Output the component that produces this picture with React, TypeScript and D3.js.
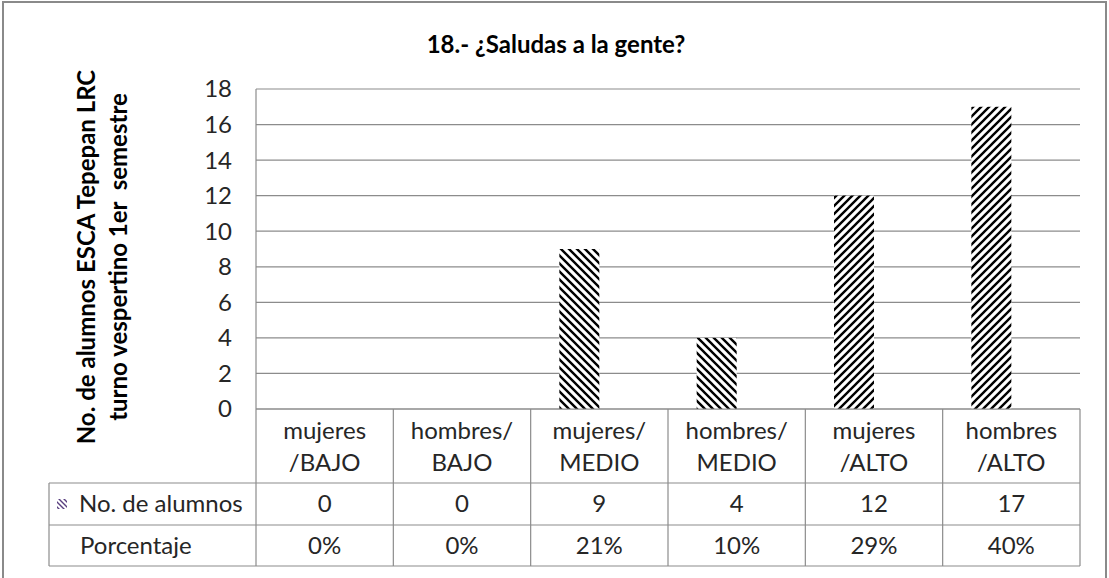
import React from "react";
import * as d3 from "d3";

const categoriesTop = ["mujeres", "hombres/", "mujeres/", "hombres/", "mujeres", "hombres"];
const categoriesBottom = ["/BAJO", "BAJO", "MEDIO", "MEDIO", "/ALTO", "/ALTO"];
const categories = ["mujeres/BAJO", "hombres/BAJO", "mujeres/MEDIO", "hombres/MEDIO", "mujeres/ALTO", "hombres/ALTO"];
const alumnos = [0, 0, 9, 4, 12, 17];
const porcentajeLabels = ["0%", "0%", "21%", "10%", "29%", "40%"];
const seriesNames = ["No. de alumnos", "Porcentaje"];
const barPatterns = ["down", "down", "down", "down", "up", "up"];
const yTicks = [0, 2, 4, 6, 8, 10, 12, 14, 16, 18];

const W = 1109;
const H = 578;
const FONT = "Lato, 'Open Sans', sans-serif";
const FS = 24;

export default function App() {
  const plotL = 256, plotR = 1080, plotT = 89, plotB = 409;
  const y = d3.scaleLinear().domain([0, 18]).range([plotB, plotT]);
  const x0 = d3.scaleBand<string>().domain(categories).range([plotL, plotR]).padding(0);
  const x1 = d3.scaleBand<string>().domain(seriesNames).range([0, x0.bandwidth()]).paddingInner(0).paddingOuter(0.717);
  const rowH = [plotB, 483, 525, 566];
  const tableL = 49;
  const grid = "#8c8c8c";
  const txt = "#262626";

  return (
    <svg width={W} height={H} style={{ position: "absolute", left: 0, top: 0, background: "#fff" }} fontFamily={FONT}>
      <defs>
        <pattern id="down" width={8} height={8} patternUnits="userSpaceOnUse">
          <rect width={8} height={8} fill="#fff" />
          <path d="M-2,-2 L10,10 M-2,6 L2,10 M6,-2 L10,2" stroke="#000" strokeWidth={2.4} />
        </pattern>
        <pattern id="up" width={8} height={8} patternUnits="userSpaceOnUse">
          <rect width={8} height={8} fill="#fff" />
          <path d="M-2,10 L10,-2 M-2,2 L2,-2 M6,10 L10,6" stroke="#000" strokeWidth={2.4} />
        </pattern>
        <pattern id="legendPat" width={5} height={5} patternUnits="userSpaceOnUse">
          <rect width={5} height={5} fill="#fff" />
          <path d="M-1,-1 L6,6 M-1,4 L1,6 M4,-1 L6,1" stroke="#5a3f80" strokeWidth={1.4} />
        </pattern>
      </defs>
      <rect x={0} y={0} width={W} height={H} fill="#fff" />
      <rect x={3} y={2} width={1103} height={H + 10} fill="none" stroke="#8a8a8a" strokeWidth={2} />

      <text x={556} y={53} textAnchor="middle" fontWeight="bold" fontSize={24} fill="#000">
        18.- ¿Saludas a la gente?
      </text>

      {/* gridlines */}
      {yTicks.map((t) => (
        <line key={t} x1={plotL} x2={plotR} y1={y(t)} y2={y(t)} stroke={grid} strokeWidth={1.2} />
      ))}
      <line x1={plotL} x2={plotL} y1={plotT} y2={plotB} stroke={grid} strokeWidth={1.2} />
      {yTicks.map((t) => (
        <text key={"t" + t} x={232} y={y(t)} dy="0.35em" textAnchor="end" fontSize={FS} fill={txt}>
          {t}
        </text>
      ))}

      {/* y axis title */}
      <g transform="translate(95,257) rotate(-90)">
        <text x={0} y={0} textAnchor="middle" fontWeight="bold" fontSize={24} fill="#000">
          No. de alumnos ESCA Tepepan LRC
        </text>
        <text x={0} y={32} textAnchor="middle" fontWeight="bold" fontSize={24} fill="#000" style={{ whiteSpace: "pre" }}>
          {"turno vespertino 1er  semestre"}
        </text>
      </g>

      {/* bars */}
      {categories.map((c, i) => {
        const bx = (x0(c) as number) + (x1(seriesNames[0]) as number);
        return alumnos[i] > 0 ? (
          <rect key={c} x={bx} y={y(alumnos[i])} width={x1.bandwidth()} height={y(0) - y(alumnos[i])} fill={`url(#${barPatterns[i]})`} />
        ) : null;
      })}

      {/* table */}
      <line x1={plotL} x2={plotR} y1={plotB} y2={plotB} stroke={grid} strokeWidth={1.2} />
      <line x1={tableL} x2={plotR} y1={rowH[1]} y2={rowH[1]} stroke={grid} strokeWidth={1.2} />
      <line x1={tableL} x2={plotR} y1={rowH[2]} y2={rowH[2]} stroke={grid} strokeWidth={1.2} />
      <line x1={tableL} x2={plotR} y1={rowH[3]} y2={rowH[3]} stroke={grid} strokeWidth={1.2} />
      <line x1={tableL} x2={tableL} y1={rowH[1]} y2={rowH[3]} stroke={grid} strokeWidth={1.2} />
      {categories.map((c) => (
        <line key={"v" + c} x1={x0(c)} x2={x0(c)} y1={plotB} y2={rowH[3]} stroke={grid} strokeWidth={1.2} />
      ))}
      <line x1={plotR} x2={plotR} y1={plotB} y2={rowH[3]} stroke={grid} strokeWidth={1.2} />

      {categories.map((c, i) => {
        const cx = (x0(c) as number) + x0.bandwidth() / 2;
        return (
          <g key={"lab" + c} fontSize={FS} fill={txt} textAnchor="middle">
            <text x={cx} y={431} dy="0.35em">{categoriesTop[i]}</text>
            <text x={cx} y={463} dy="0.35em">{categoriesBottom[i]}</text>
            <text x={cx} y={(rowH[1] + rowH[2]) / 2} dy="0.35em">{alumnos[i]}</text>
            <text x={cx} y={(rowH[2] + rowH[3]) / 2} dy="0.35em">{porcentajeLabels[i]}</text>
          </g>
        );
      })}
      <rect x={57} y={499} width={10} height={10} fill="url(#legendPat)" />
      <text x={79} y={(rowH[1] + rowH[2]) / 2} dy="0.35em" fontSize={FS} fill={txt}>{seriesNames[0]}</text>
      <text x={80} y={(rowH[2] + rowH[3]) / 2} dy="0.35em" fontSize={FS} fill={txt}>{seriesNames[1]}</text>
    </svg>
  );
}
